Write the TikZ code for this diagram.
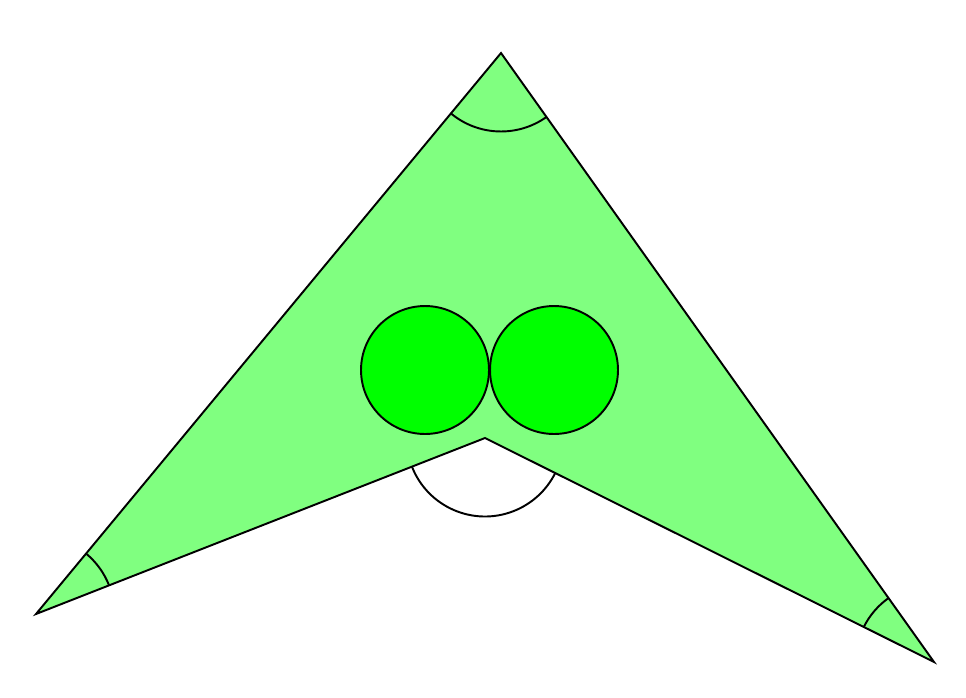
\documentclass[tikz,border=0pt]{standalone}
\usetikzlibrary{angles}
\tikzset{
  kiteshape/.style={draw=black, fill=green!50, line width=1.1pt, line join=miter},
  eye/.style={draw=black, fill=green, line width=1.1pt},
  anglemark/.style={draw=black, line width=1.1pt, angle radius=1.57cm}
}
\begin{document}
\begin{tikzpicture}[x=0.02cm, y=-0.02cm]
\useasboundingbox (0,0) rectangle (966,697);
\coordinate (A) at (501,53);
\coordinate (B) at (36,614);
\coordinate (C) at (485,438);
\coordinate (D) at (934,662);
\path[kiteshape] (A) -- (B) -- (C) -- (D) -- cycle;
\draw[eye] (425,370) circle [radius=1.28cm];
\draw[eye] (554,370) circle [radius=1.28cm];
\pic[anglemark] {angle = B--A--D};
\pic[anglemark] {angle = C--B--A};
\pic[anglemark] {angle = A--D--C};
\pic[anglemark] {angle = B--C--D};
\end{tikzpicture}
\end{document}
